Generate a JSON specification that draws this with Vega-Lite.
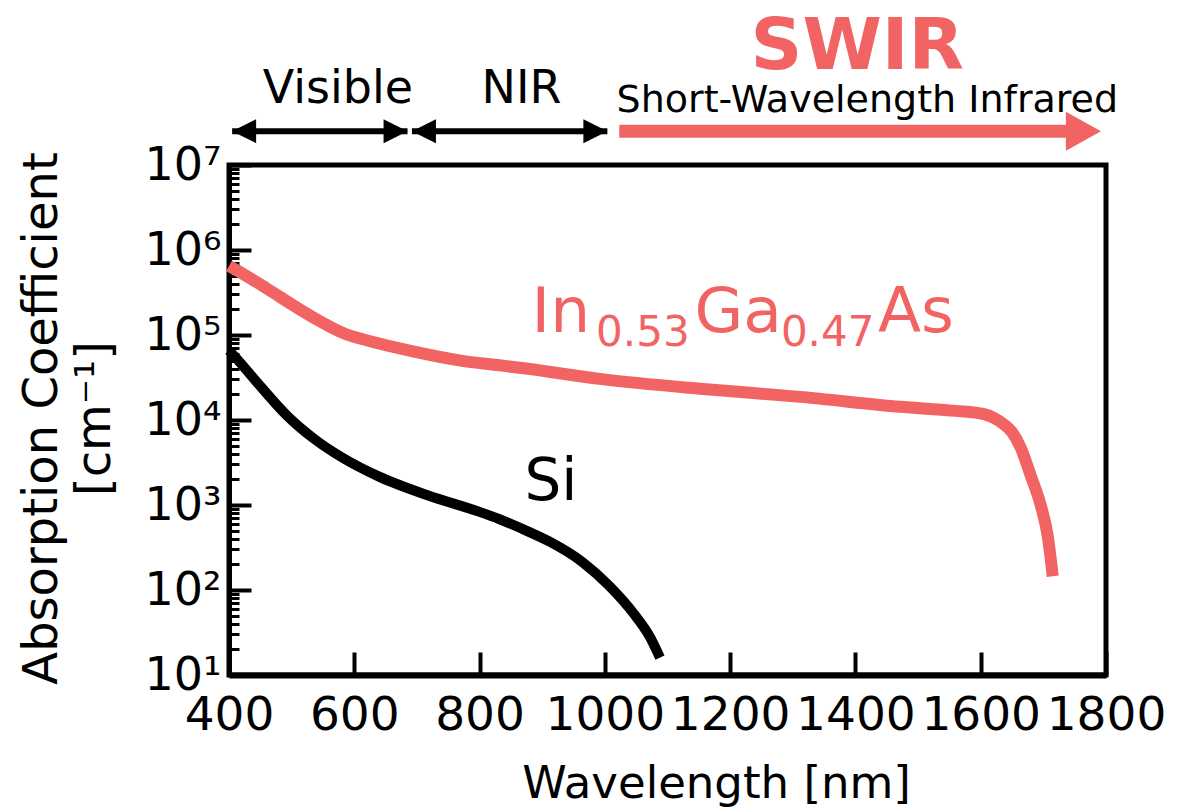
{
  "$schema": "https://vega.github.io/schema/vega-lite/v6.json",
  "width": 877,
  "height": 510,
  "autosize": "none",
  "padding": {"left": 229, "top": 165, "right": 72, "bottom": 137},
  "background": "white",
  "config": {
    "font": "DejaVu Sans",
    "view": {"stroke": "black", "strokeWidth": 5},
    "axis": {"labelColor": "black", "titleColor": "black", "domainColor": "black", "tickColor": "black", "grid": false, "titleFontWeight": "normal", "labelFont": "DejaVu Sans", "titleFont": "DejaVu Sans"},
    "text": {"font": "DejaVu Sans"}
  },
  "datasets": {
    "curves": [
      {"material": "InGaAs", "wavelength": 400, "alpha": 650000},
      {"material": "InGaAs", "wavelength": 413, "alpha": 575000},
      {"material": "InGaAs", "wavelength": 461, "alpha": 350000},
      {"material": "InGaAs", "wavelength": 504, "alpha": 220000},
      {"material": "InGaAs", "wavelength": 546, "alpha": 144000},
      {"material": "InGaAs", "wavelength": 584, "alpha": 104000},
      {"material": "InGaAs", "wavelength": 621, "alpha": 86000},
      {"material": "InGaAs", "wavelength": 690, "alpha": 65000},
      {"material": "InGaAs", "wavelength": 770, "alpha": 50000},
      {"material": "InGaAs", "wavelength": 832, "alpha": 44000},
      {"material": "InGaAs", "wavelength": 877, "alpha": 40000},
      {"material": "InGaAs", "wavelength": 992, "alpha": 30500},
      {"material": "InGaAs", "wavelength": 1152, "alpha": 23300},
      {"material": "InGaAs", "wavelength": 1312, "alpha": 18700},
      {"material": "InGaAs", "wavelength": 1472, "alpha": 14300},
      {"material": "InGaAs", "wavelength": 1560, "alpha": 12800},
      {"material": "InGaAs", "wavelength": 1605, "alpha": 11700},
      {"material": "InGaAs", "wavelength": 1622, "alpha": 10500},
      {"material": "InGaAs", "wavelength": 1636, "alpha": 9000},
      {"material": "InGaAs", "wavelength": 1650, "alpha": 7200},
      {"material": "InGaAs", "wavelength": 1664, "alpha": 4700},
      {"material": "InGaAs", "wavelength": 1680, "alpha": 2200},
      {"material": "InGaAs", "wavelength": 1696, "alpha": 980},
      {"material": "InGaAs", "wavelength": 1707, "alpha": 430},
      {"material": "InGaAs", "wavelength": 1715, "alpha": 145},
      {"material": "Si", "wavelength": 400, "alpha": 66000},
      {"material": "Si", "wavelength": 410, "alpha": 55000},
      {"material": "Si", "wavelength": 450, "alpha": 25000},
      {"material": "Si", "wavelength": 493, "alpha": 11200},
      {"material": "Si", "wavelength": 536, "alpha": 6000},
      {"material": "Si", "wavelength": 584, "alpha": 3500},
      {"material": "Si", "wavelength": 637, "alpha": 2200},
      {"material": "Si", "wavelength": 717, "alpha": 1300},
      {"material": "Si", "wavelength": 800, "alpha": 830},
      {"material": "Si", "wavelength": 832, "alpha": 680},
      {"material": "Si", "wavelength": 877, "alpha": 490},
      {"material": "Si", "wavelength": 912, "alpha": 370},
      {"material": "Si", "wavelength": 965, "alpha": 211},
      {"material": "Si", "wavelength": 1008, "alpha": 110},
      {"material": "Si", "wavelength": 1045, "alpha": 54},
      {"material": "Si", "wavelength": 1072, "alpha": 28},
      {"material": "Si", "wavelength": 1088, "alpha": 16}
    ],
    "one": [{}]
  },
  "resolve": {"axis": {"y": "independent", "x": "independent"}},
  "layer": [
    {
      "data": {"name": "curves"},
      "transform": [{"filter": "datum.material === 'InGaAs'"}],
      "mark": {"type": "line", "interpolate": "monotone", "strokeWidth": 12, "color": "#F26363"},
      "encoding": {
        "x": {
          "field": "wavelength", "type": "quantitative",
          "scale": {"domain": [400, 1800], "nice": false, "zero": false},
          "axis": {
            "values": [400, 600, 800, 1000, 1200, 1400, 1600, 1800], "format": "d",
            "tickSize": -23, "tickWidth": 4, "domainWidth": 6,
            "labelFontSize": 47, "labelPadding": 40, "labelFlush": false, "labelOverlap": false,
            "title": "Wavelength [nm]", "titleFontSize": 45,
            "titleX": 487, "titleY": 122, "titleBaseline": "alphabetic", "titleAlign": "center"
          }
        },
        "y": {
          "field": "alpha", "type": "quantitative",
          "scale": {"type": "log", "domain": [10, 10000000], "nice": false},
          "axis": {
            "orient": "left",
            "values": [10, 100, 1000, 10000, 100000, 1000000, 10000000],
            "labelExpr": "'10' + ['⁰','¹','²','³','⁴','⁵','⁶','⁷'][round(log(datum.value)/LN10)]",
            "tickSize": -22, "tickWidth": 4, "domainWidth": 5,
            "labelFontSize": 46, "labelPadding": 30, "labelFlush": false, "labelOverlap": false, "labelBaseline": "middle",
            "title": ["Absorption Coefficient", "[cm⁻¹]"], "titleFontSize": 48, "titleLineHeight": 53,
            "titleX": -211, "titleY": 253, "titleAngle": -90, "titleBaseline": "top", "titleAlign": "center"
          }
        }
      }
    },
    {
      "data": {"name": "curves"},
      "transform": [{"filter": "datum.material === 'Si'"}],
      "mark": {"type": "line", "interpolate": "monotone", "strokeWidth": 10, "color": "black"},
      "encoding": {
        "x": {"field": "wavelength", "type": "quantitative", "axis": null},
        "y": {
          "field": "alpha", "type": "quantitative",
          "axis": {
            "orient": "left",
            "values": [20, 30, 40, 50, 60, 70, 80, 90, 200, 300, 400, 500, 600, 700, 800, 900, 2000, 3000, 4000, 5000, 6000, 7000, 8000, 9000, 20000, 30000, 40000, 50000, 60000, 70000, 80000, 90000, 200000, 300000, 400000, 500000, 600000, 700000, 800000, 900000, 2000000, 3000000, 4000000, 5000000, 6000000, 7000000, 8000000, 9000000],
            "tickSize": -10, "tickWidth": 3, "domain": false, "labels": false, "title": null
          }
        }
      }
    },
    {
      "data": {"name": "one"},
      "mark": {"type": "rule", "strokeWidth": 6, "color": "black"},
      "encoding": {"x": {"datum": 405, "axis": null}, "x2": {"datum": 685}, "y": {"datum": 25000000, "axis": null}}
    },
    {
      "data": {"name": "one"},
      "mark": {"type": "rule", "strokeWidth": 6, "color": "black"},
      "encoding": {"x": {"datum": 692, "axis": null}, "x2": {"datum": 1004}, "y": {"datum": 25000000, "axis": null}}
    },
    {
      "data": {"name": "one"},
      "mark": {"type": "rule", "strokeWidth": 13, "color": "#F26363"},
      "encoding": {"x": {"datum": 1023, "axis": null}, "x2": {"datum": 1745}, "y": {"datum": 25000000, "axis": null}}
    },
    {
      "data": {"name": "one"},
      "mark": {"type": "point", "shape": "M0,0L2,-1L2,1Z", "filled": true, "opacity": 1, "size": 576, "color": "black"},
      "encoding": {"x": {"datum": 405, "axis": null}, "y": {"datum": 25000000, "axis": null}}
    },
    {
      "data": {"name": "one"},
      "mark": {"type": "point", "shape": "M0,0L-2,-1L-2,1Z", "filled": true, "opacity": 1, "size": 576, "color": "black"},
      "encoding": {"x": {"datum": 685, "axis": null}, "y": {"datum": 25000000, "axis": null}}
    },
    {
      "data": {"name": "one"},
      "mark": {"type": "point", "shape": "M0,0L2,-1L2,1Z", "filled": true, "opacity": 1, "size": 576, "color": "black"},
      "encoding": {"x": {"datum": 692, "axis": null}, "y": {"datum": 25000000, "axis": null}}
    },
    {
      "data": {"name": "one"},
      "mark": {"type": "point", "shape": "M0,0L-2,-1L-2,1Z", "filled": true, "opacity": 1, "size": 576, "color": "black"},
      "encoding": {"x": {"datum": 1004, "axis": null}, "y": {"datum": 25000000, "axis": null}}
    },
    {
      "data": {"name": "one"},
      "mark": {"type": "point", "shape": "M0,0L-1.8,-1L-1.8,1Z", "filled": true, "opacity": 1, "size": 1521, "color": "#F26363"},
      "encoding": {"x": {"datum": 1792, "axis": null}, "y": {"datum": 25000000, "axis": null}}
    },
    {
      "data": {"name": "one"},
      "mark": {"type": "text", "text": "Visible", "fontSize": 46, "align": "center", "baseline": "alphabetic", "color": "black"},
      "encoding": {"x": {"datum": 574, "axis": null}, "y": {"datum": 54000000, "axis": null}}
    },
    {
      "data": {"name": "one"},
      "mark": {"type": "text", "text": "NIR", "fontSize": 46, "align": "center", "baseline": "alphabetic", "color": "black"},
      "encoding": {"x": {"datum": 867, "axis": null}, "y": {"datum": 54000000, "axis": null}}
    },
    {
      "data": {"name": "one"},
      "mark": {"type": "text", "text": "SWIR", "fontSize": 72, "fontWeight": "bold", "align": "center", "baseline": "alphabetic", "color": "#F26363"},
      "encoding": {"x": {"datum": 1403, "axis": null}, "y": {"datum": 134500000, "axis": null}}
    },
    {
      "data": {"name": "one"},
      "mark": {"type": "text", "text": "Short-Wavelength Infrared", "fontSize": 38, "align": "center", "baseline": "alphabetic", "color": "black"},
      "encoding": {"x": {"datum": 1419, "axis": null}, "y": {"datum": 42000000, "axis": null}}
    },
    {
      "data": {"name": "one"},
      "mark": {"type": "text", "text": "Si", "fontSize": 58, "align": "center", "baseline": "alphabetic", "color": "black"},
      "encoding": {"x": {"datum": 914, "axis": null}, "y": {"datum": 1140, "axis": null}}
    },
    {
      "data": {"name": "one"},
      "mark": {"type": "text", "text": "In", "fontSize": 63, "align": "left", "baseline": "alphabetic", "color": "#F26363"},
      "encoding": {"x": {"datum": 883, "axis": null}, "y": {"datum": 108000, "axis": null}}
    },
    {
      "data": {"name": "one"},
      "mark": {"type": "text", "text": "0.53", "fontSize": 42, "align": "left", "baseline": "alphabetic", "color": "#F26363"},
      "encoding": {"x": {"datum": 986, "axis": null}, "y": {"datum": 74000, "axis": null}}
    },
    {
      "data": {"name": "one"},
      "mark": {"type": "text", "text": "Ga", "fontSize": 63, "align": "left", "baseline": "alphabetic", "color": "#F26363"},
      "encoding": {"x": {"datum": 1143, "axis": null}, "y": {"datum": 108000, "axis": null}}
    },
    {
      "data": {"name": "one"},
      "mark": {"type": "text", "text": "0.47", "fontSize": 42, "align": "left", "baseline": "alphabetic", "color": "#F26363"},
      "encoding": {"x": {"datum": 1281, "axis": null}, "y": {"datum": 74000, "axis": null}}
    },
    {
      "data": {"name": "one"},
      "mark": {"type": "text", "text": "As", "fontSize": 63, "align": "left", "baseline": "alphabetic", "color": "#F26363"},
      "encoding": {"x": {"datum": 1436, "axis": null}, "y": {"datum": 108000, "axis": null}}
    }
  ]
}
